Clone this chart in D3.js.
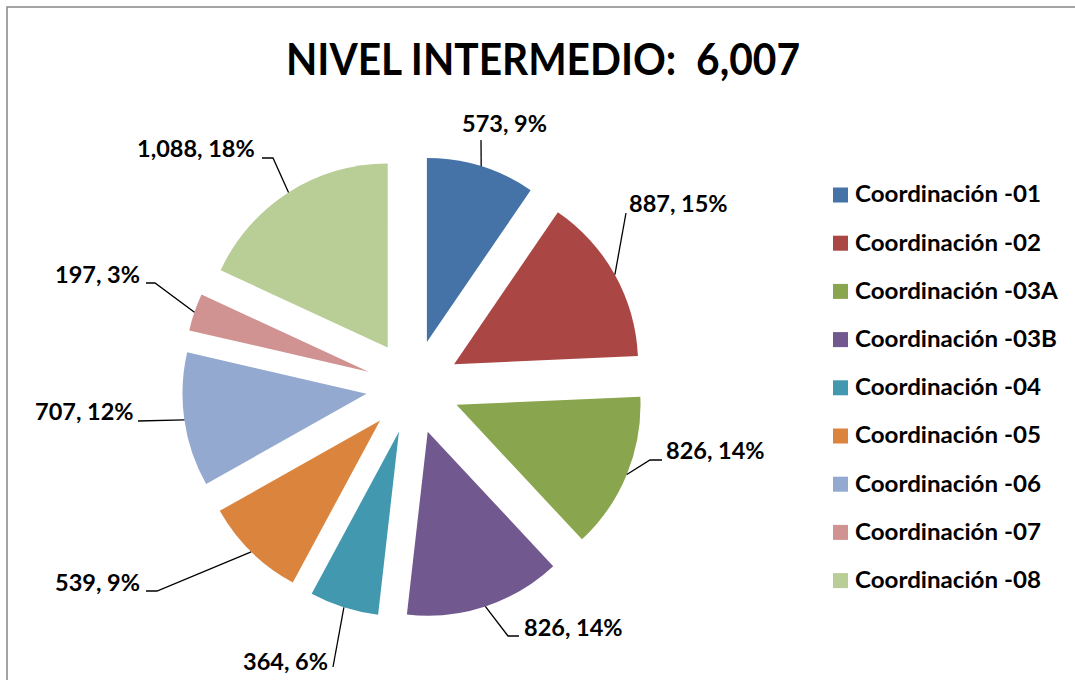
<!DOCTYPE html>
<html><head><meta charset="utf-8">
<script src="https://cdn.jsdelivr.net/npm/d3@7"></script>
<style>
html,body{margin:0;padding:0;background:#fff;}
svg{display:block;}
text{font-family:Lato,"Open Sans",sans-serif;font-weight:700;fill:#000;white-space:pre;}
</style></head>
<body>
<svg id="chart" width="1075" height="680"></svg>
<script>
// ---- data ----
const categories = ["Coordinación -01","Coordinación -02","Coordinación -03A","Coordinación -03B","Coordinación -04","Coordinación -05","Coordinación -06","Coordinación -07","Coordinación -08"];
const values = [573, 887, 826, 826, 364, 539, 707, 197, 1088];
const colors = ["#4572A7","#AA4643","#89A54E","#71588F","#4198AF","#DB843D","#93A9CF","#D19392","#B9CD96"];
const titlePrefix = "NIVEL INTERMEDIO:  ";

// ---- layout (positions only) ----
const cx = 413, cy = 387, radius = 184, explode = 47;
const labelLayout = [
  {x:462, y:132, pts:[[481,140]]},
  {x:629, y:212, pts:[[626,213]]},
  {x:666, y:459, pts:[[662,460],[650,460]]},
  {x:524, y:636, pts:[[519,636],[508,636]]},
  {x:243, y:670, pts:[[333,667]]},
  {x:55,  y:591, pts:[[146,591],[157,591]]},
  {x:35,  y:420, pts:[[138,421]]},
  {x:55,  y:283, pts:[[146,283],[155,283]]},
  {x:137, y:157, pts:[[262,158],[273,158]]}
];

const svg = d3.select("#chart");
const total = d3.sum(values);

// percentages by largest remainder (sum to 100)
const raw = values.map(v => v / total * 100);
const pct = raw.map(Math.floor);
let remain = 100 - d3.sum(pct);
raw.map((r, i) => ({i, rem: r - Math.floor(r)}))
   .sort((a, b) => b.rem - a.rem)
   .slice(0, remain).forEach(o => pct[o.i] += 1);

// border
svg.append("rect").attr("x", 7).attr("y", 7).attr("width", 1200).attr("height", 800)
  .attr("fill", "none").attr("stroke", "#8c8c8c").attr("stroke-width", 1.6);

// title
const title = svg.append("text").attr("x", 543).attr("y", 75).attr("text-anchor", "middle")
  .attr("font-size", 44).text(titlePrefix + d3.format(",")(total));
title.attr("textLength", 514).attr("lengthAdjust", "spacingAndGlyphs");

// pie
const pie = d3.pie().sort(null).value(d => d);
const arcs = pie(values);
const arc = d3.arc().innerRadius(0).outerRadius(radius);
const g = svg.append("g").attr("transform", `translate(${cx},${cy})`);
const mid = d => (d.startAngle + d.endAngle) / 2;
g.selectAll("path.slice").data(arcs).join("path")
  .attr("class", "slice")
  .attr("d", arc)
  .attr("fill", (d, i) => colors[i])
  .attr("transform", d => `translate(${explode * Math.sin(mid(d))},${-explode * Math.cos(mid(d))})`);

// leader lines
const line = d3.line();
svg.selectAll("path.leader").data(arcs).join("path")
  .attr("class", "leader")
  .attr("fill", "none").attr("stroke", "#000").attr("stroke-width", 1.3)
  .attr("d", (d, i) => {
    const a = mid(d), rr = radius + explode;
    const end = [cx + rr * Math.sin(a), cy - rr * Math.cos(a)];
    return line(labelLayout[i].pts.concat([end]));
  });

// data labels
const fmt = d3.format(",");
const labels = svg.selectAll("text.dl").data(arcs).join("text")
  .attr("class", "dl")
  .attr("x", (d, i) => labelLayout[i].x)
  .attr("y", (d, i) => labelLayout[i].y)
  .attr("font-size", 23.5)
  .text((d, i) => `${fmt(values[i])}, ${pct[i]}%`);
const kL = 85 / labels.nodes()[0].getComputedTextLength();
labels.each(function() {
  const w = this.getComputedTextLength();
  d3.select(this).attr("textLength", w * kL).attr("lengthAdjust", "spacingAndGlyphs");
});

// legend
const leg = svg.append("g");
const rowH = 48.2;
leg.selectAll("rect").data(categories).join("rect")
  .attr("x", 833).attr("y", (d, i) => 187.5 + i * rowH)
  .attr("width", 15).attr("height", 15)
  .attr("fill", (d, i) => colors[i]);
const legText = leg.selectAll("text").data(categories).join("text")
  .attr("x", 855).attr("y", (d, i) => 202.3 + i * rowH)
  .attr("font-size", 23.5).text(d => d);
const kG = 186 / legText.nodes()[0].getComputedTextLength();
legText.each(function() {
  const w = this.getComputedTextLength();
  d3.select(this).attr("textLength", w * kG).attr("lengthAdjust", "spacingAndGlyphs");
});
</script>
</body></html>
